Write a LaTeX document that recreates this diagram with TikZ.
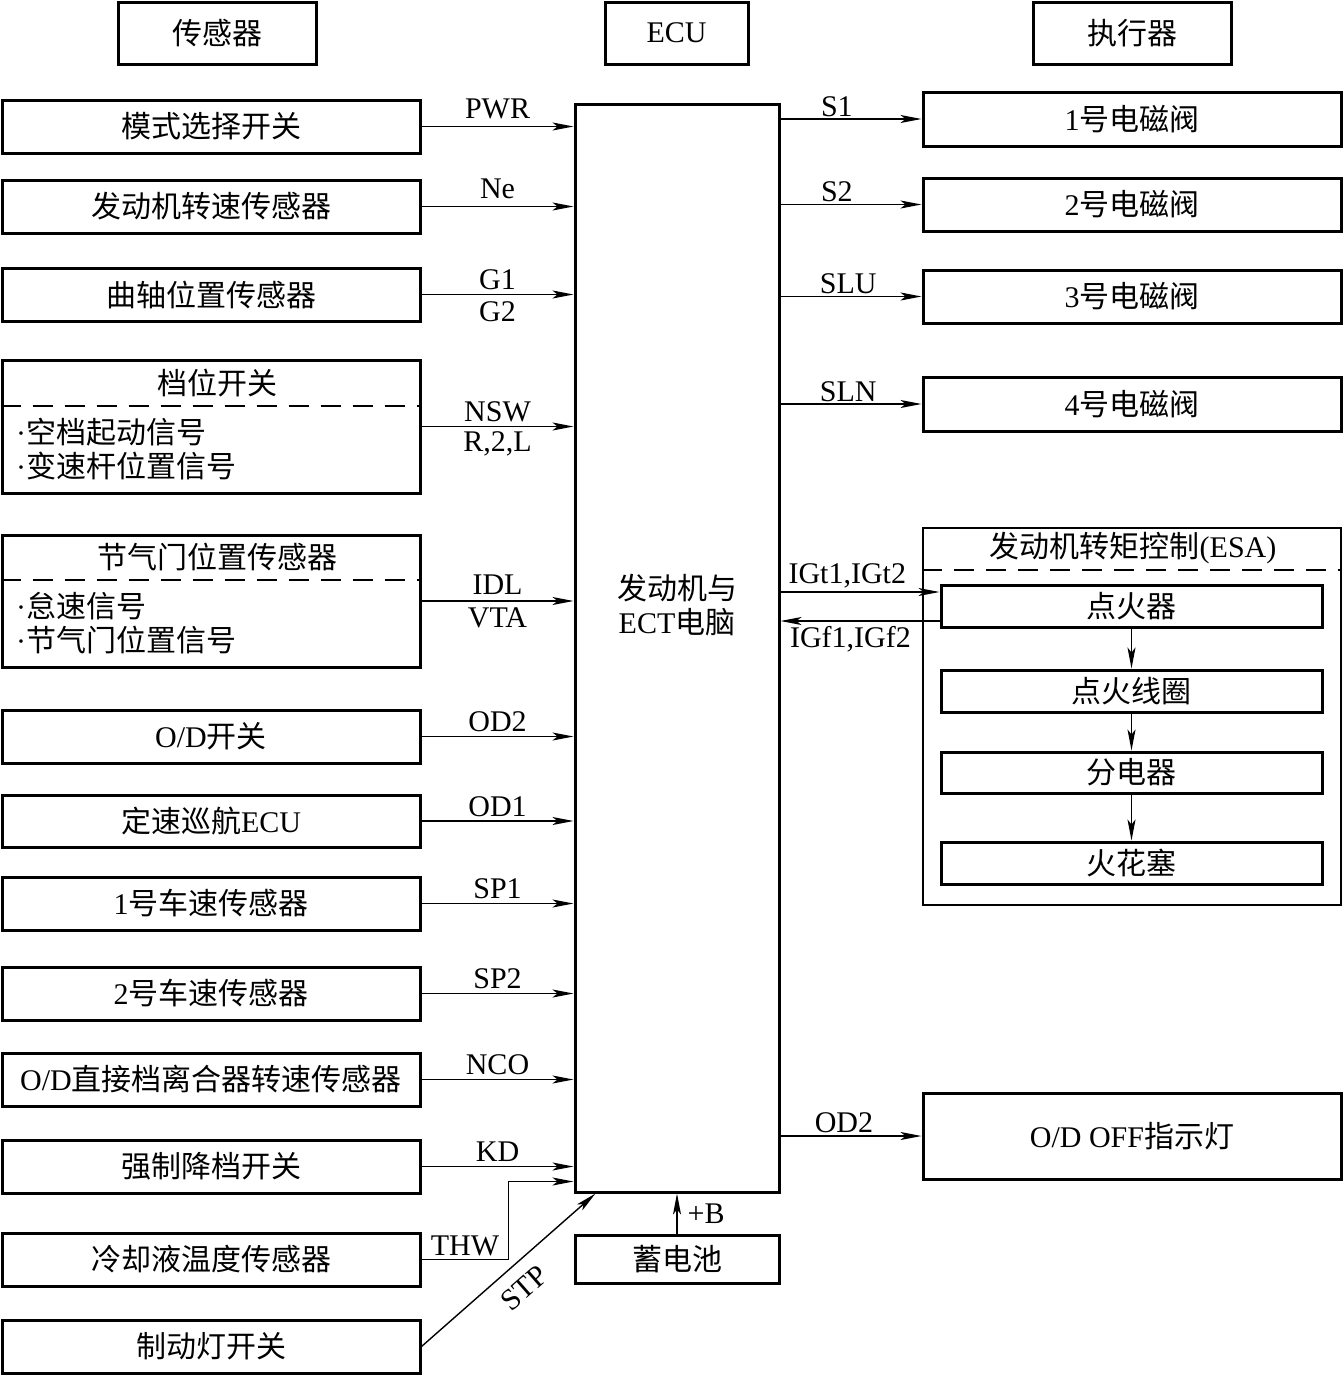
\documentclass[tikz,border=0pt]{standalone}
\usepackage{fontspec}
\setmainfont{Liberation Serif}
\newfontfamily\zh{Noto Sans CJK SC}
\usetikzlibrary{arrows.meta,positioning}

\begin{document}
\begin{tikzpicture}[x=1pt,y=-1pt,>={Stealth[length=21pt,width=8pt,inset=5pt]},line join=miter]
\path[use as bounding box,fill=white] (0,0) rectangle (1343,1376);
\tikzset{blk/.style={draw=black,line width=3pt,minimum width=418pt,minimum height=53pt,inner sep=0pt,font=\zh\fontsize{30}{34}\selectfont},
  sig/.style={draw=black,line width=1.4pt,->},
  dash line/.style={draw=black,line width=1.6pt,dash pattern=on 20pt off 12pt},
  lbl/.style={font=\fontsize{30}{34}\selectfont,inner sep=2pt},
  txt/.style={font=\zh\fontsize{30}{34}\selectfont,inner sep=0pt}}
\newcommand\dotitem{{\rmfamily\textperiodcentered}}
\node[blk,minimum width=198pt,minimum height=62pt] (hsen) at (217,33) {传感器};
\node[blk,minimum width=143pt,minimum height=62pt] (hecu) at (676.5,33) {\rmfamily ECU};
\node[blk,minimum width=198pt,minimum height=62pt] (hact) at (1132,33) {执行器};
\node[blk,minimum width=204pt,minimum height=1088pt] (ecu) at (677,648) {};
\node[txt,align=center] (ecut) at (677,605) {发动机与\\{\rmfamily ECT}电脑};
\node[blk] (s1) at (211,126.5) {模式选择开关};
\node[blk] (s2) at (211,206.5) {发动机转速传感器};
\node[blk] (s3) at (211,294.5) {曲轴位置传感器};
\node[blk,minimum height=133pt] (s4) at (211,426.5) {};
\node[txt] (s4t) at (217,383) {档位开关};
\node[txt,anchor=west,align=left] (s4i) at (16,449.5) {\dotitem 空档起动信号\\\dotitem 变速杆位置信号};
\draw[dash line] (s4.west |- 0,406) -- (s4.east |- 0,406);
\node[blk,minimum height=132pt] (s5) at (211,601) {};
\node[txt] (s5t) at (217,557) {节气门位置传感器};
\node[txt,anchor=west,align=left] (s5i) at (16,623.5) {\dotitem 怠速信号\\\dotitem 节气门位置信号};
\draw[dash line] (s5.west |- 0,580) -- (s5.east |- 0,580);
\node[blk] (s6) at (211,736.5) {{\rmfamily O/D}开关};
\node[blk,minimum height=52pt] (s7) at (211,821) {定速巡航{\rmfamily ECU}};
\node[blk] (s8) at (211,903.5) {{\rmfamily 1}号车速传感器};
\node[blk] (s9) at (211,993.5) {{\rmfamily 2}号车速传感器};
\node[blk] (s10) at (211,1079.5) {{\rmfamily O/D}直接档离合器转速传感器};
\node[blk] (s11) at (211,1166.5) {强制降档开关};
\node[blk] (s12) at (211,1259.5) {冷却液温度传感器};
\node[blk] (s13) at (211,1346.5) {制动灯开关};
\node[blk,minimum width=204pt,minimum height=48pt] (bat) at (677,1259) {蓄电池};
\node[blk,minimum height=54pt] (a1) at (1132,119) {{\rmfamily 1}号电磁阀};
\node[blk] (a2) at (1132,204.5) {{\rmfamily 2}号电磁阀};
\node[blk] (a3) at (1132,296.5) {{\rmfamily 3}号电磁阀};
\node[blk,minimum height=54pt] (a4) at (1132,404) {{\rmfamily 4}号电磁阀};
\node[blk,line width=2.4pt,minimum height=377pt] (esa) at (1132,716.5) {};
\node[txt] (esat) at (1133,548) {发动机转矩控制{\rmfamily (ESA)}};
\draw[dash line] (esa.west |- 0,570) -- (esa.east |- 0,570);
\node[blk,minimum width=381pt,minimum height=42pt] (ign) at (1131.5,606) {点火器};
\node[blk,minimum width=381pt,minimum height=42pt] (coil) at (1131.5,691) {点火线圈};
\node[blk,minimum width=381pt,minimum height=41pt] (dist) at (1131.5,772.5) {分电器};
\node[blk,minimum width=381pt,minimum height=42pt] (plug) at (1131.5,863) {火花塞};
\node[blk,minimum height=86pt] (odl) at (1132,1136) {{\rmfamily O/D OFF}指示灯};
\draw[sig] (s1.east) -- node[lbl,above=5pt]{PWR} (s1.east -| ecu.west);
\draw[sig] (s2.east) -- node[lbl,above=5pt]{Ne} (s2.east -| ecu.west);
\draw[sig] (s3.east) -- node[lbl,above=2pt]{G1} node[lbl,below=4pt]{G2} (s3.east -| ecu.west);
\draw[sig] (s4.east) -- node[lbl,above=2pt]{NSW} node[lbl,below=2pt]{R,2,L} (s4.east -| ecu.west);
\draw[sig] (s5.east) -- node[lbl,above=4pt]{IDL} node[lbl,below=4pt]{VTA} (s5.east -| ecu.west);
\draw[sig] (s6.east) -- node[lbl,above=2pt]{OD2} (s6.east -| ecu.west);
\draw[sig] (s7.east) -- node[lbl,above=2pt]{OD1} (s7.east -| ecu.west);
\draw[sig] (s8.east) -- node[lbl,above=2pt]{SP1} (s8.east -| ecu.west);
\draw[sig] (s9.east) -- node[lbl,above=2pt]{SP2} (s9.east -| ecu.west);
\draw[sig] (s10.east) -- node[lbl,above=2pt]{NCO} (s10.east -| ecu.west);
\draw[sig] (s11.east) -- node[lbl,above=2pt]{KD} (s11.east -| ecu.west);
\draw[sig] (s12.east) -- node[lbl,above=1pt]{THW} ++(87,0) |- ([yshift=12pt]ecu.south west);
\draw[sig] (s13.east) -- node[lbl,sloped,below=11pt,pos=0.5]{STP} ([xshift=22pt]ecu.south west);
\draw[sig] (bat.north) -- node[lbl,right=8pt]{+B} (ecu.south);
\draw[sig] (a1.west -| ecu.east) -- node[lbl,above=0pt,pos=0.4]{S1} (a1.west);
\draw[sig] (a2.west -| ecu.east) -- node[lbl,above=0pt,pos=0.4]{S2} (a2.west);
\draw[sig] (a3.west -| ecu.east) -- node[lbl,above=0pt,pos=0.48]{SLU} (a3.west);
\draw[sig] (a4.west -| ecu.east) -- node[lbl,above=0pt,pos=0.48]{SLN} (a4.west);
\coordinate (igt) at ([yshift=14pt]ign.west);
\coordinate (igf) at ([yshift=-15pt]ign.west);
\draw[sig] (igt -| ecu.east) -- node[lbl,above=1pt,pos=0.42]{IGt1,IGt2} (igt);
\draw[sig] (igf) -- node[lbl,below=3pt,pos=0.56]{IGf1,IGf2} (igf -| ecu.east);
\draw[sig] (ign.south) -- (coil.north);
\draw[sig] (coil.south) -- (dist.north);
\draw[sig] (dist.south) -- (plug.north);
\draw[sig] (odl.west -| ecu.east) -- node[lbl,above=1pt,pos=0.45]{OD2} (odl.west);
\end{tikzpicture}
\end{document}
